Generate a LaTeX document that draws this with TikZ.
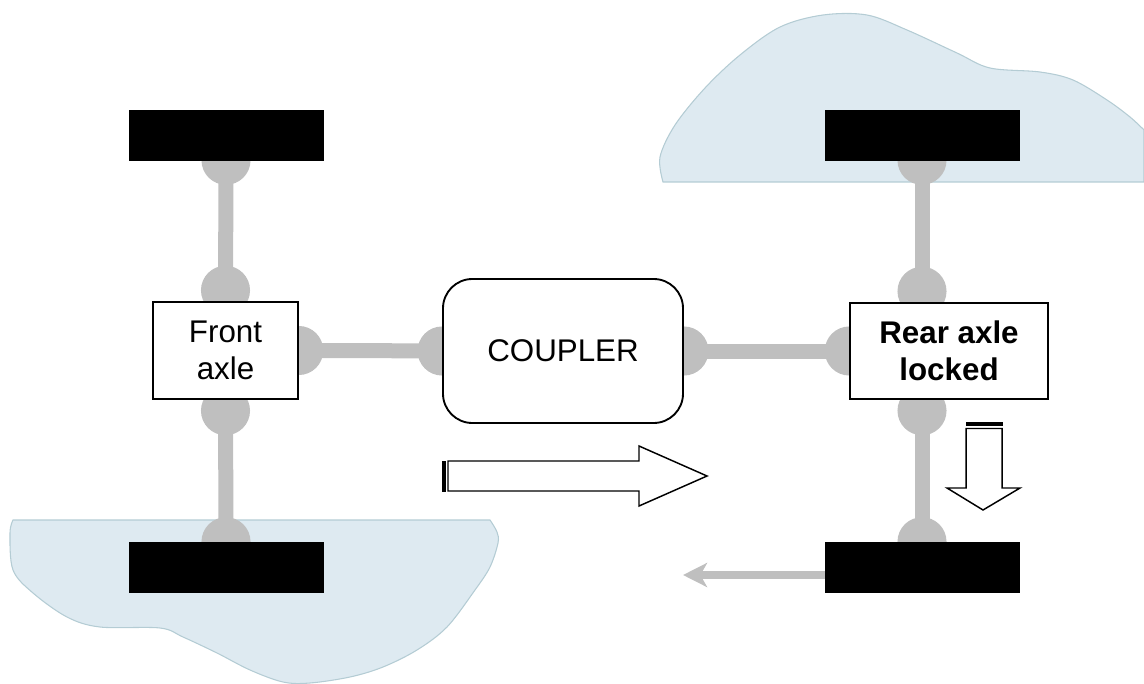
\documentclass[tikz,border=0pt]{standalone}
\usepackage{fontspec}
\setmainfont{Liberation Sans}
\usetikzlibrary{calc,arrows.meta}
\pgfdeclarelayer{clouds}
\pgfdeclarelayer{bg}
\pgfsetlayers{clouds,bg,main}
\definecolor{cloudfill}{RGB}{222,234,241}
\definecolor{cloudline}{RGB}{180,204,212}
\definecolor{shaftgray}{RGB}{191,191,191}
\tikzset{
  cloudshape/.style={fill=cloudfill,draw=cloudline,line width=0.8pt},
  wheel/.style={fill=black,draw=black,minimum width=145.5pt,minimum height=37.5pt,inner sep=0pt},
  axlebox/.style={fill=white,draw=black,line width=1.1pt,inner sep=0pt,align=center,
     font=\fontsize{23.5pt}{27.75pt}\selectfont},
  couplerbox/.style={fill=white,draw=black,line width=1.4pt,rounded corners=22pt,inner sep=0pt,
     font=\fontsize{23.5pt}{27.75pt}\selectfont},
  shaft/.style={draw=shaftgray,line width=11.25pt},
  dot/.style={fill=shaftgray},
  hollow/.style={draw=black,fill=white,line width=1.1pt,line join=miter},
  garrow/.style={draw=shaftgray,line width=6pt,-{Stealth[length=18pt,width=18pt,inset=5pt]}}
}
\begin{document}
\begin{tikzpicture}[x=0.75pt,y=-0.75pt]
\useasboundingbox (0,0) rectangle (1144,684);
% clouds
\begin{pgfonlayer}{clouds}
\path[cloudshape] (13,520) -- (490,520)
  -- plot[smooth,tension=0.55] coordinates {(490,520) (497,532) (498,543) (490,567) (475,590) (447,627) (417,650) (383,667) (350,677) (310,683) (283,682) (250,670) (217,653) (183,637) (160,628) (100,627) (67,617) (33,593) (13,570) (10,533) (13,520)} -- cycle;
\path[cloudshape] (663,182) -- (1144,182) -- (1144,130)
  -- plot[smooth,tension=0.55] coordinates {(1144,130) (1130,117) (1107,100) (1073,80) (1040,72) (990,68) (957,53) (907,30) (867,15) (823,15) (780,27) (740,55) (705,88) (675,125) (660,157) (663,182)} -- cycle;
\end{pgfonlayer}
% nodes
\node[wheel] (tlw) at (226,135) {};
\node[wheel] (blw) at (226,567) {};
\node[wheel] (trw) at (922,135) {};
\node[wheel] (brw) at (922,567) {};
\node[axlebox,minimum width=108.75pt,minimum height=72.75pt] (fa) at (225.5,350.5) {Front\\axle};
\node[axlebox,minimum width=148.5pt,minimum height=72pt,font=\fontsize{23.5pt}{27.75pt}\selectfont\bfseries] (ra) at (949,351) {Rear axle\\locked};
\node[couplerbox,minimum width=180pt,minimum height=108pt] (cp) at (563,351) {COUPLER};
% shafts and joints
\begin{pgfonlayer}{bg}
\draw[shaft] (tlw.south) -- (fa.north);
\draw[shaft] (fa.south) -- (blw.north);
\draw[shaft] (fa) -- (cp);
\draw[shaft] (cp) -- (ra.west);
\draw[shaft] (trw.south) -- (trw.south |- ra.north);
\draw[shaft] (brw.north |- ra.south) -- (brw.north);
\fill[dot] (tlw.south) circle[radius=18.4pt];
\fill[dot] ($(fa.north)+(0,-11)$) circle[radius=18.4pt];
\fill[dot] ($(fa.south)+(0,11)$) circle[radius=18.4pt];
\fill[dot] (blw.north) circle[radius=18.4pt];
\fill[dot] (fa.east) circle[radius=18.4pt];
\fill[dot] (cp.west) circle[radius=18.4pt];
\fill[dot] (cp.east) circle[radius=18.4pt];
\fill[dot] (ra.west) circle[radius=18.4pt];
\fill[dot] (trw.south) circle[radius=18.4pt];
\fill[dot] ($(trw.south |- ra.north)+(0,-11)$) circle[radius=18.4pt];
\fill[dot] ($(brw.north |- ra.south)+(0,11)$) circle[radius=18.4pt];
\fill[dot] (brw.north) circle[radius=18.4pt];
\coordinate (gaend) at (683,575);
\draw[garrow] ($(brw.west)+(0,8)$) -- (gaend);
\end{pgfonlayer}
% striped right arrow
\draw[hollow] (448,461) -- (639,461) -- (639,446) -- (707,476) -- (639,506) -- (639,491) -- (448,491) -- cycle;
\fill[black] (442,460.5) rectangle (446,491.5);
% striped down arrow
\draw[hollow] (966,428.5) -- (1002,428.5) -- (1002,488) -- (1020,488) -- (983,510) -- (947,488) -- (966,488) -- cycle;
\fill[black] (965.5,422) rectangle (1002.5,426);
\end{tikzpicture}
\end{document}
